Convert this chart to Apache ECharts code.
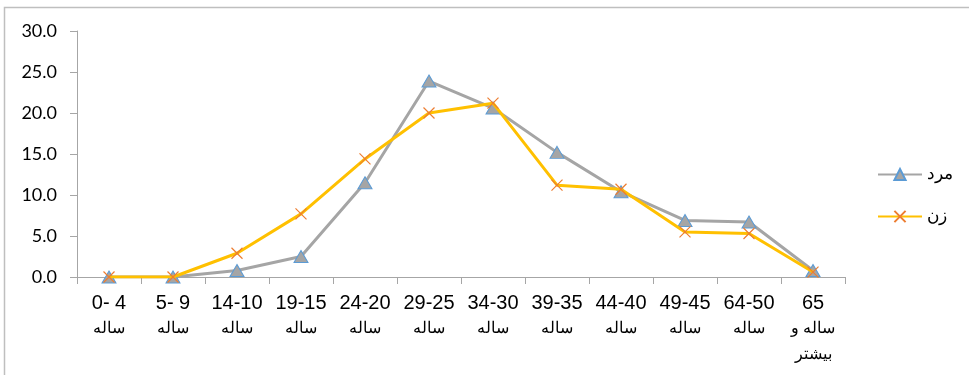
<!DOCTYPE html>
<html>
<head>
<meta charset="utf-8">
<script src="https://cdn.jsdelivr.net/npm/echarts@6/dist/echarts.min.js"></script>
<style>
html,body{margin:0;padding:0;background:#fff;}
#chart{width:969px;height:375px;}
</style>
</head>
<body>
<div id="chart"></div>
<script>
// Age groups (first line) and their Persian suffix lines
const ageRanges = ['0- 4', '5- 9', '14-10', '19-15', '24-20', '29-25', '34-30', '39-35', '44-40', '49-45', '64-50', '65'];
const ageSuffix = ['ساله', 'ساله', 'ساله', 'ساله', 'ساله', 'ساله', 'ساله', 'ساله', 'ساله', 'ساله', 'ساله', 'ساله و\nبیشتر'];
const categories = ageRanges.map((r, i) => r + '\n' + ageSuffix[i]);

// Percentage share per age group
const men   = [0.0, 0.0, 0.8, 2.5, 11.5, 23.9, 20.6, 15.2, 10.4, 6.9, 6.7, 0.8];
const women = [0.0, 0.0, 2.9, 7.7, 14.4, 20.0, 21.2, 11.2, 10.7, 5.5, 5.3, 0.6];

const yTicks = { min: 0, max: 30, interval: 5 };
const seriesNames = ['مرد', 'زن'];

const chart = echarts.init(document.getElementById('chart'), null, { renderer: 'canvas' });

const axisGray = '#A6A6A6';
const crossPath = 'path://M0,0L10,10M10,0L0,10';

chart.setOption({
  backgroundColor: '#fff',
  animation: false,
  graphic: [{
    type: 'rect',
    shape: { x: 4.5, y: 7.5, width: 1000, height: 400 },
    style: { fill: 'none', stroke: '#BFBFBF', lineWidth: 1.5 },
    silent: true
  }],
  grid: { left: 77, right: 124, top: 31, bottom: 98, containLabel: false },
  legend: {
    orient: 'vertical',
    left: 872,
    top: 161,
    itemWidth: 44,
    itemHeight: 14,
    itemGap: 25,
    textStyle: { fontFamily: 'Liberation Sans, Arial, sans-serif', fontSize: 17, color: '#000' },
    data: seriesNames
  },
  xAxis: {
    type: 'category',
    data: categories,
    boundaryGap: true,
    axisLine: { lineStyle: { color: axisGray, width: 1 } },
    axisTick: { show: true, length: 7, lineStyle: { color: axisGray } },
    axisLabel: {
      interval: 0,
      margin: 13,
      color: '#000',
      formatter: function (v) {
        const parts = v.split('\n');
        return '{a|' + parts[0] + '}' + parts.slice(1).map(p => '\n{b|' + p + '}').join('');
      },
      rich: {
        a: { fontFamily: 'Liberation Sans, Arial, sans-serif', fontSize: 20, lineHeight: 26, color: '#000' },
        b: { fontFamily: 'Liberation Sans, Arial, sans-serif', fontSize: 16, lineHeight: 26, color: '#000' }
      }
    },
    splitLine: { show: false }
  },
  yAxis: {
    type: 'value',
    min: yTicks.min,
    max: yTicks.max,
    interval: yTicks.interval,
    axisLine: { show: true, lineStyle: { color: axisGray, width: 1 } },
    axisTick: { show: true, length: 7, lineStyle: { color: axisGray } },
    axisLabel: {
      margin: 20,
      color: '#000',
      fontFamily: 'Lato, Liberation Sans, sans-serif',
      fontSize: 18,
      formatter: v => v.toFixed(1)
    },
    splitLine: { show: false }
  },
  series: [
    {
      name: seriesNames[0],
      type: 'line',
      data: men,
      symbol: 'triangle',
      symbolSize: [14, 12],
      lineStyle: { color: '#A5A5A5', width: 3 },
      itemStyle: { color: '#A5A5A5', borderColor: '#5B9BD5', borderWidth: 1 },
      z: 2
    },
    {
      name: seriesNames[1],
      type: 'line',
      data: women,
      symbol: crossPath,
      symbolSize: 11,
      lineStyle: { color: '#FFC000', width: 3 },
      itemStyle: { color: 'rgba(0,0,0,0)', borderColor: '#ED7D31', borderWidth: 1.2 },
      z: 3
    }
  ]
});
</script>
</body>
</html>
